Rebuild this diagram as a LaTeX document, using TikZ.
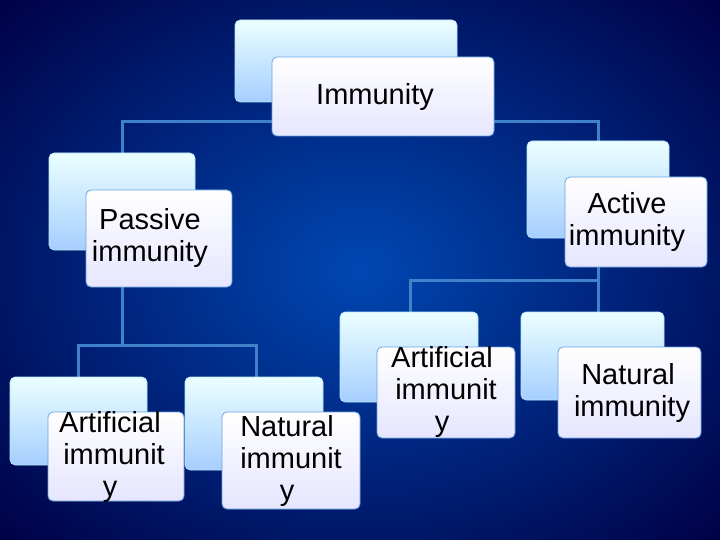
\documentclass[tikz,border=0pt]{standalone}
\usepackage{fontspec}
\setmainfont{Liberation Sans}
\begin{document}
\begin{tikzpicture}[x=1pt,y=-1pt,
  backbox/.style={rounded corners=5pt,top color=cyan!8!white,bottom color=cyan!45!blue!35!white,draw=cyan!30!white,line width=0.6pt},
  frontbox/.style={rounded corners=5pt,top color=white,bottom color=blue!10!white,draw=cyan!60!blue!60!white,line width=0.8pt},
  conn/.style={draw=cyan!50!blue!80!white,line width=3pt},
  lbl/.style={font=\fontsize{29}{32}\selectfont,align=center,text=black}]
\useasboundingbox (0,0) rectangle (720,540);
\shade[inner color=blue!60!cyan!70!black,outer color=blue!30!black!90!black] (-150,-120) rectangle (870,660);
% connectors
\coordinate (t1) at (346,102);
\coordinate (t2) at (346,122);
\coordinate (tl) at (122,122);
\coordinate (tr) at (598,122);
\coordinate (pl) at (122,153);
\coordinate (pr) at (598,141);
\draw[conn] (t1) -- (t2);
\draw[conn] (pl) -- (tl) -- (tr) -- (pr);
\coordinate (p1) at (122,250);
\coordinate (p2) at (122,345);
\coordinate (pa) at (78,345);
\coordinate (pb) at (256,345);
\coordinate (pa2) at (78,377);
\coordinate (pb2) at (256,377);
\draw[conn] (p1) -- (p2);
\draw[conn] (pa2) -- (pa) -- (pb) -- (pb2);
\coordinate (a1) at (598,238);
\coordinate (a2) at (598,280);
\coordinate (aa) at (410,280);
\coordinate (aa2) at (410,312);
\coordinate (ab2) at (598,312);
\draw[conn] (a1) -- (a2);
\draw[conn] (aa2) -- (aa) -- (a2) -- (ab2);
% boxes
\path[backbox] (235,20) rectangle (457,102);
\path[frontbox] (272,57) rectangle (494,136);
\node[lbl] (imm) at (375,97) {Immunity};
\path[backbox] (49,153) rectangle (195,250);
\path[frontbox] (86,190) rectangle (232,287);
\node[lbl] (pas) at (150,238) {Passive\\immunity};
\path[backbox] (527,141) rectangle (669,238);
\path[frontbox] (565,177) rectangle (707,267);
\node[lbl] (act) at (627,222) {Active\\immunity};
\path[backbox] (10,377) rectangle (147,465);
\path[frontbox] (48,412) rectangle (184,501);
\node[lbl] (pa) at (110,457) {Artificial\\\ immunit\\y};
\path[backbox] (185,377) rectangle (323,470);
\path[frontbox] (222,412) rectangle (360,509);
\node[lbl] (pn) at (287,461) {Natural\\\ immunit\\y};
\path[backbox] (340,312) rectangle (478,402);
\path[frontbox] (377,347) rectangle (515,438);
\node[lbl] (aa) at (442,392) {Artificial\\\ immunit\\y};
\path[backbox] (521,312) rectangle (664,400);
\path[frontbox] (558,347) rectangle (701,438);
\node[lbl] (an) at (628,393) {Natural\\\ immunity};
\end{tikzpicture}
\end{document}
